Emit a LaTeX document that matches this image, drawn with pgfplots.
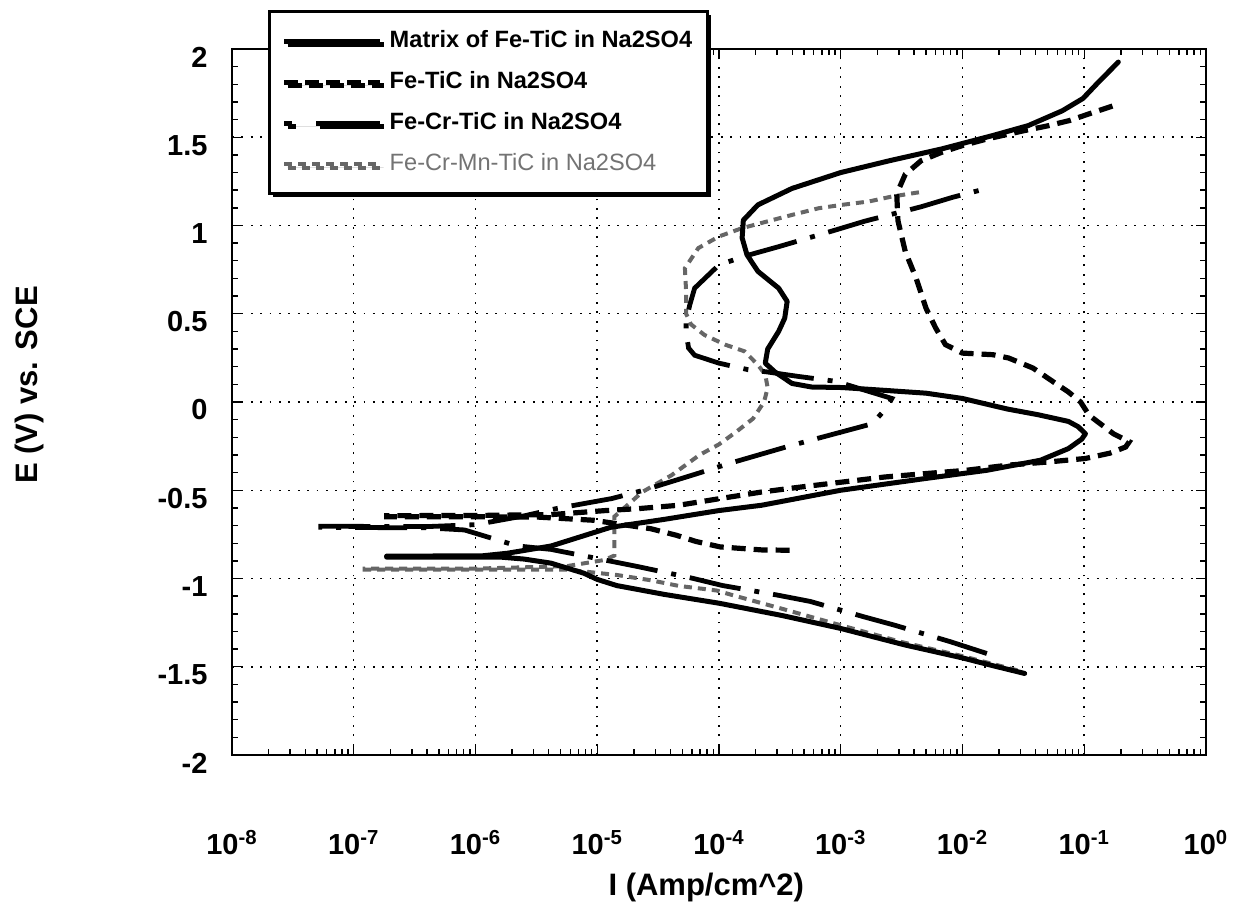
\documentclass[border=0pt]{standalone}
\usepackage{fontspec}
\setmainfont{Liberation Sans}
\usepackage{pgfplots}
\pgfplotsset{compat=1.18}
\usetikzlibrary{shadows}

\begin{document}
\begin{tikzpicture}
\path[use as bounding box] (0,0) rectangle (620.5pt,455pt);
\begin{axis}[
  at={(116pt,77.5pt)}, anchor=south west,
  scale only axis, width=487pt, height=353pt,
  xmode=log, xmin=1e-8, xmax=1, ymin=-2, ymax=2,
  xtick={1e-8,1e-7,1e-6,1e-5,1e-4,1e-3,1e-2,1e-1,1},
  xticklabels={10\textsuperscript{-8},10\textsuperscript{-7},10\textsuperscript{-6},10\textsuperscript{-5},10\textsuperscript{-4},10\textsuperscript{-3},10\textsuperscript{-2},10\textsuperscript{-1},10\textsuperscript{0}},
  minor xtick={2e-8,3e-8,4e-8,5e-8,6e-8,7e-8,8e-8,9e-8,
               2e-7,3e-7,4e-7,5e-7,6e-7,7e-7,8e-7,9e-7,
               2e-6,3e-6,4e-6,5e-6,6e-6,7e-6,8e-6,9e-6,
               2e-5,3e-5,4e-5,5e-5,6e-5,7e-5,8e-5,9e-5,
               2e-4,3e-4,4e-4,5e-4,6e-4,7e-4,8e-4,9e-4,
               2e-3,3e-3,4e-3,5e-3,6e-3,7e-3,8e-3,9e-3,
               2e-2,3e-2,4e-2,5e-2,6e-2,7e-2,8e-2,9e-2,
               2e-1,3e-1,4e-1,5e-1,6e-1,7e-1,8e-1,9e-1},
  ytick={-2,-1.5,-1,-0.5,0,0.5,1,1.5,2},
  yticklabels={-2,-1.5,-1,-0.5,0,0.5,1,1.5,2},
  minor y tick num=4,
  tick align=inside,
  major tick length=5pt, minor tick length=3pt,
  every tick/.style={black, line width=0.7pt},
  axis line style={line width=0.8pt},
  grid=major,
  major grid style={black, line width=0.75pt, dash pattern=on 0.9pt off 3.8pt},
  ticklabel style={font=\fontsize{14.5}{16}\selectfont\bfseries},
  yticklabel style={xshift=-8.7pt, yshift=-4pt},
  xticklabel style={yshift=-34pt},
  xlabel={I (Amp/cm\textasciicircum 2)},
  ylabel={E (V) vs. SCE},
  label style={font=\fontsize{15.5}{18}\selectfont\bfseries},
  xlabel style={at={(rel axis cs:0.487,-0.188)}, anchor=center},
  ylabel style={at={(rel axis cs:-0.2084,0.524)}, anchor=center},
  legend cell align=left,
  legend image code/.code={\draw[#1] (0pt,0pt) -- (48pt,0pt);},
  legend style={at={(0.037,1.055)}, anchor=north west, fill=white, draw=black,
    line width=1.5pt, inner xsep=6pt, inner ysep=7.5pt, row sep=6pt, column sep=2pt,
    font=\fontsize{11.8}{14}\selectfont\bfseries,
    nodes={inner sep=1.5pt, text height=9pt, text depth=2.5pt},
    drop shadow={shadow xshift=1.8pt, shadow yshift=-1.8pt, fill=black, opacity=1}},
]

% Fe-Cr-Mn-TiC
\addplot[forget plot, black!60, line width=2pt, dash pattern=on 4pt off 3pt] table {
2.818e-2 -1.520
1e-2 -1.440
3.162e-3 -1.360
1e-3 -1.265
3.236e-4 -1.170
1.288e-4 -1.094
9.550e-5 -1.068
4.677e-5 -1.042
2.754e-5 -1.010
1.445e-5 -0.980
5.623e-6 -0.950
1e-6 -0.949
1.230e-7 -0.949
1.230e-7 -0.944
1e-6 -0.944
5.623e-6 -0.930
1.148e-5 -0.895
1.380e-5 -0.870
1.380e-5 -0.650
2.344e-5 -0.510
4.074e-5 -0.415
6.918e-5 -0.300
1e-4 -0.240
1.380e-4 -0.170
1.905e-4 -0.094
2.344e-4 0.000
2.512e-4 0.080
2.399e-4 0.155
2.089e-4 0.210
1.622e-4 0.287
1.122e-4 0.325
7.586e-5 0.380
5.888e-5 0.440
5.370e-5 0.500
5.370e-5 0.626
5.248e-5 0.758
6.761e-5 0.872
1e-4 0.938
1.549e-4 0.985
2.399e-4 1.020
3.981e-4 1.060
6.607e-4 1.098
1.023e-3 1.117
1.698e-3 1.136
2.630e-3 1.164
4.571e-3 1.190
};

% Fe-Cr-TiC
\addplot[forget plot, black, line width=2.4pt, dash pattern=on 26pt off 7pt on 2.5pt off 7pt] table {
1.585e-2 -1.425
7.943e-3 -1.358
2.754e-3 -1.264
1.549e-3 -1.217
5.623e-4 -1.130
3.020e-4 -1.094
1.072e-4 -1.040
5.754e-5 -0.995
2.138e-5 -0.932
1.148e-5 -0.895
4.169e-6 -0.835
2.188e-6 -0.815
8.128e-7 -0.725
3.981e-7 -0.713
5.370e-8 -0.710
5.370e-8 -0.704
3.981e-7 -0.706
1e-6 -0.695
2.512e-6 -0.645
4.677e-6 -0.603
1.318e-5 -0.547
2.399e-5 -0.500
6.607e-5 -0.406
1.202e-4 -0.349
3.548e-4 -0.255
6.310e-4 -0.208
1.820e-3 -0.123
2.399e-3 -0.030
2.630e-3 0.020
9.120e-4 0.117
4.467e-4 0.145
2.512e-4 0.170
1.738e-4 0.183
1e-4 0.220
6.310e-5 0.265
5.623e-5 0.306
5.370e-5 0.400
5.370e-5 0.457
5.754e-5 0.550
6.310e-5 0.645
1e-4 0.777
1.698e-4 0.830
3.090e-4 0.880
8.913e-4 0.973
1.585e-3 1.025
4.571e-3 1.106
8.318e-3 1.160
1.585e-2 1.210
};

% Fe-TiC
\addplot[forget plot, black, line width=2.6pt, dash pattern=on 7pt off 4pt] table {
3.802e-4 -0.840
2.239e-4 -0.838
1.023e-4 -0.821
6.457e-5 -0.790
4.467e-5 -0.755
2.754e-5 -0.718
9.333e-6 -0.670
3.236e-6 -0.652
1e-6 -0.650
1.862e-7 -0.650
1.862e-7 -0.644
1e-6 -0.643
4.169e-6 -0.638
1.175e-5 -0.615
2.188e-5 -0.604
4.677e-5 -0.585
1.023e-4 -0.547
2.239e-4 -0.510
4.786e-4 -0.481
1.047e-3 -0.453
2.291e-3 -0.425
4.898e-3 -0.406
1.072e-2 -0.387
2.344e-2 -0.358
5.012e-2 -0.340
1.023e-1 -0.320
1.622e-1 -0.290
2.188e-1 -0.255
2.344e-1 -0.225
1.738e-1 -0.180
1.096e-1 -0.075
9.333e-2 0.000
7.413e-2 0.057
5.495e-2 0.117
3.802e-2 0.192
2.399e-2 0.249
1.778e-2 0.268
1e-2 0.277
7.244e-3 0.325
6.026e-3 0.419
5.012e-3 0.532
4.169e-3 0.700
3.388e-3 0.853
2.951e-3 1.027
2.884e-3 1.180
3.388e-3 1.290
4.571e-3 1.367
6.761e-3 1.415
1e-2 1.453
1.585e-2 1.490
3.236e-2 1.538
5.129e-2 1.566
7.586e-2 1.595
1.202e-1 1.642
1.950e-1 1.690
};

% Matrix of Fe-TiC
\addplot[forget plot, black, line width=2.5pt, line join=round, line cap=round] table {
3.24e-2 -1.538
1.778e-2 -1.494
1e-2 -1.450
3.388e-3 -1.377
1e-3 -1.283
3.311e-4 -1.210
1e-4 -1.140
3.548e-5 -1.090
1.445e-5 -1.040
1e-5 -1.005
7.762e-6 -0.970
4.169e-6 -0.913
2.512e-6 -0.890
1.622e-6 -0.879
1.862e-7 -0.879
1.862e-7 -0.873
1.122e-6 -0.872
1.820e-6 -0.857
4.169e-6 -0.816
1.288e-5 -0.710
3.548e-5 -0.665
1e-4 -0.615
2.239e-4 -0.585
1e-3 -0.500
4.898e-3 -0.434
1.585e-2 -0.387
4.365e-2 -0.330
7.413e-2 -0.264
9.550e-2 -0.210
1.023e-1 -0.180
8.913e-2 -0.140
7.413e-2 -0.110
4.169e-2 -0.072
2.344e-2 -0.040
1e-2 0.020
5.012e-3 0.050
2.291e-3 0.066
1.023e-3 0.082
5.754e-4 0.085
3.981e-4 0.105
2.884e-4 0.170
2.399e-4 0.220
2.512e-4 0.300
3.090e-4 0.400
3.467e-4 0.475
3.631e-4 0.570
3.090e-4 0.645
2.089e-4 0.740
1.698e-4 0.834
1.549e-4 0.930
1.585e-4 1.030
2.089e-4 1.117
3.981e-4 1.210
1e-3 1.300
2.512e-3 1.367
6.761e-3 1.434
1.778e-2 1.510
3.467e-2 1.566
6.607e-2 1.650
9.772e-2 1.720
1.259e-1 1.800
1.905e-1 1.926
};

\addlegendimage{black, line width=2.5pt}
\addlegendentry{Matrix of Fe-TiC in Na2SO4}
\addlegendimage{black, line width=2.6pt, dash pattern=on 7pt off 3.5pt}
\addlegendentry{Fe-TiC in Na2SO4}
\addlegendimage{black, line width=2.4pt, dash pattern=on 4pt off 12pt on 32pt}
\addlegendentry{Fe-Cr-TiC in Na2SO4}
\addlegendimage{black!60, line width=2pt, dash pattern=on 4pt off 3pt}
\addlegendentry{\color{black!55}\mdseries Fe-Cr-Mn-TiC in Na2SO4}

\end{axis}
\end{tikzpicture}
\end{document}
